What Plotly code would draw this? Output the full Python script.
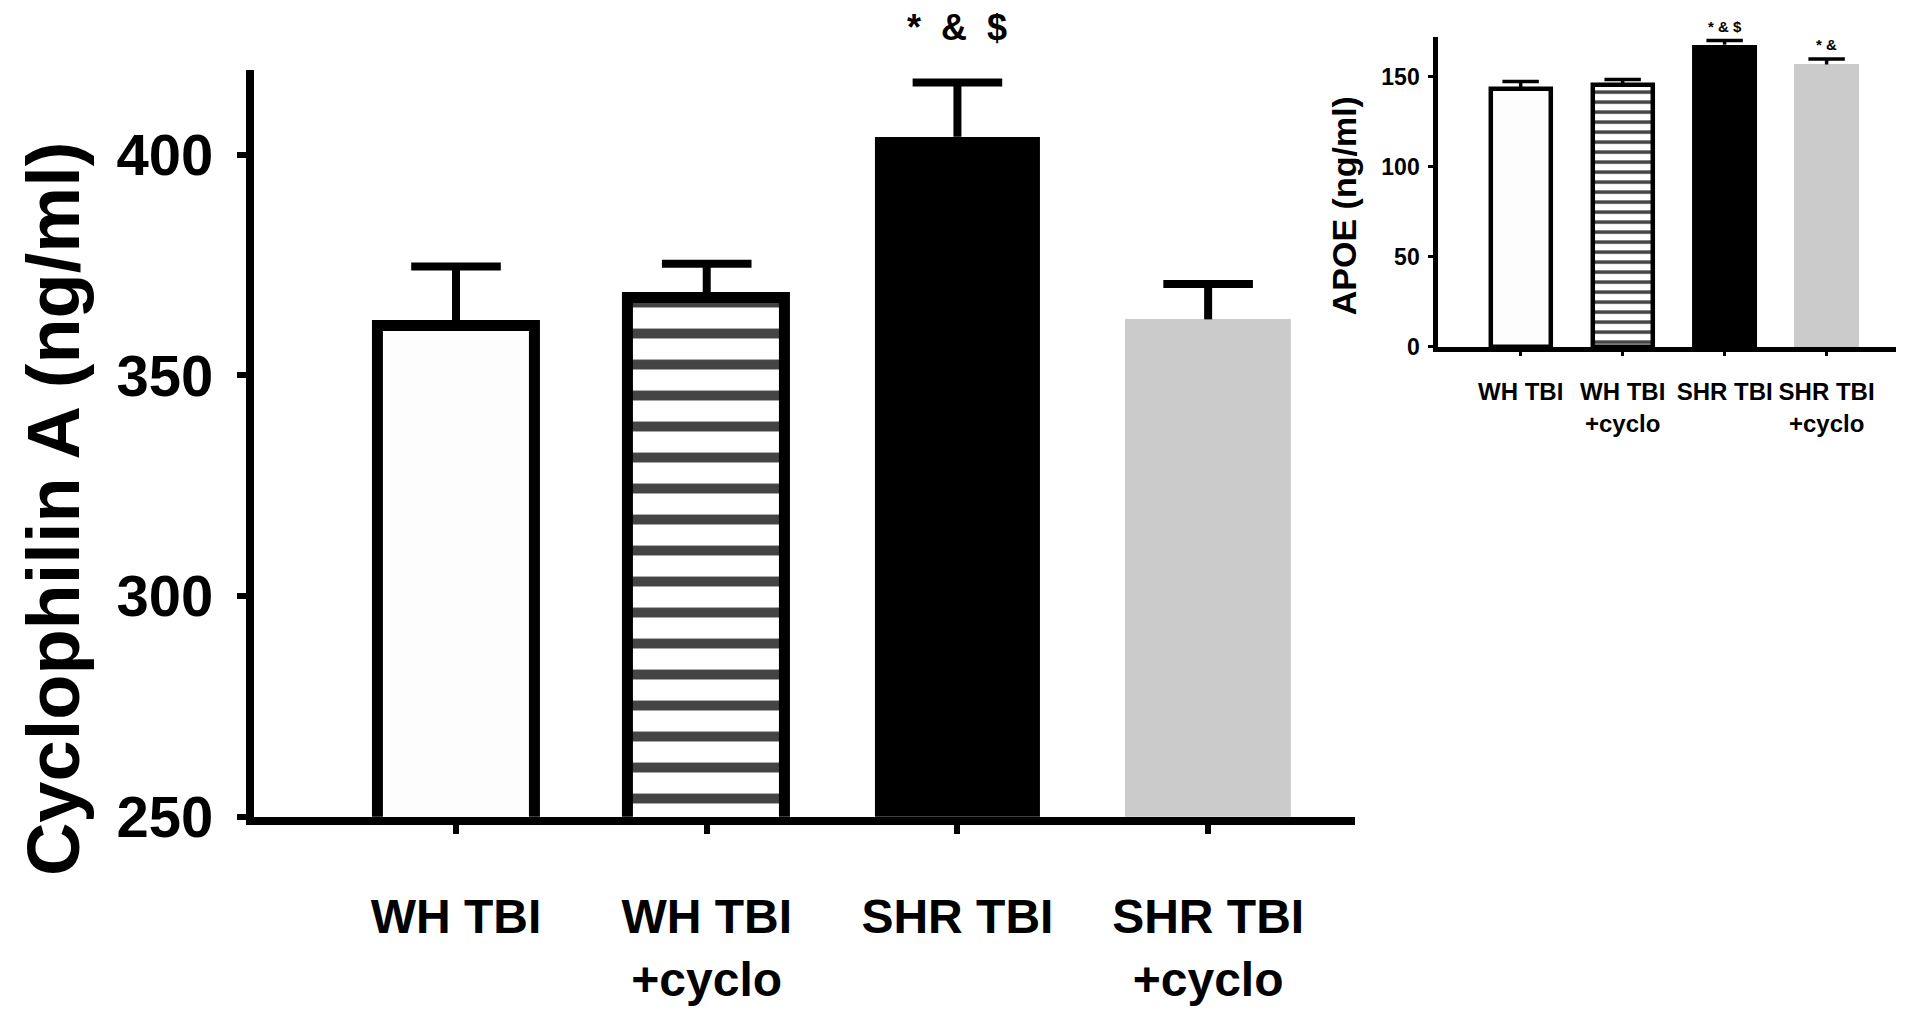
import plotly.graph_objects as go

# data
categories = ["WH TBI", "WH TBI +cyclo", "SHR TBI", "SHR TBI +cyclo"]
tick_labels = ["WH TBI", "WH TBI<br>+cyclo", "SHR TBI", "SHR TBI<br>+cyclo"]

cypa_mean = [361.1, 367.6, 404.1, 362.7]
cypa_err = [13.6, 7.7, 12.3, 8.0]
cypa_sig = ["", "", "*\u00a0\u00a0&\u00a0\u00a0$", ""]

apoe_mean = [143.0, 145.6, 167.8, 156.8]
apoe_err = [4.3, 2.8, 2.3, 3.0]
apoe_sig = ["", "", "*\u00a0&\u00a0$", "*\u00a0&"]

main_ticks = [250, 300, 350, 400]
inset_ticks = [0, 50, 100, 150]

FONT = "Liberation Sans, Arial, sans-serif"
fills = ["#fdfdfd", "white", "black", "#cbcbcb"]
edge_w_main = [11, 11, 0, 0]
edge_w_inset = [4.5, 4.5, 0, 0]
patt = ["", "-", "", ""]

fig = go.Figure()

# main chart
fig.add_trace(go.Bar(
    x=categories, y=cypa_mean,
    width=[0.626, 0.626, 0.662, 0.662],
    marker=dict(color=fills, line=dict(color="black", width=edge_w_main),
                pattern=dict(shape=patt, fgcolor="black", bgcolor="white", fgopacity=1,
                             size=31, solidity=0.32, fillmode="overlay")),
    error_y=dict(type="data", symmetric=False, array=cypa_err,
                 arrayminus=[0] * 4, color="black", thickness=8, width=0),
    xaxis="x", yaxis="y", showlegend=False,
))
fig.add_trace(go.Scatter(
    x=categories, y=[m + e for m, e in zip(cypa_mean, cypa_err)],
    mode="markers", xaxis="x", yaxis="y", showlegend=False, cliponaxis=False,
    marker=dict(symbol="line-ew", size=64, line=dict(color="black", width=8)),
))

# inset chart
fig.add_trace(go.Bar(
    x=categories, y=apoe_mean,
    width=[0.59, 0.59, 0.63, 0.63],
    marker=dict(color=fills, line=dict(color="black", width=edge_w_inset),
                pattern=dict(shape=patt, fgcolor="black", bgcolor="white", fgopacity=1,
                             size=10, solidity=0.35, fillmode="overlay")),
    error_y=dict(type="data", symmetric=False, array=apoe_err,
                 arrayminus=[0] * 4, color="black", thickness=3.5, width=0),
    xaxis="x2", yaxis="y2", showlegend=False,
))
fig.add_trace(go.Scatter(
    x=categories, y=[m + e for m, e in zip(apoe_mean, apoe_err)],
    mode="markers", xaxis="x2", yaxis="y2", showlegend=False, cliponaxis=False,
    marker=dict(symbol="line-ew", size=26, line=dict(color="black", width=3.5)),
))

annos = []
for c, m, e, s in zip(categories, cypa_mean, cypa_err, cypa_sig):
    if s:
        annos.append(dict(x=c, y=m + e, xref="x", yref="y", text=s, showarrow=False,
                          yanchor="bottom", yshift=32,
                          font=dict(family=FONT, size=36, color="black", weight="bold")))
for c, m, e, s in zip(categories, apoe_mean, apoe_err, apoe_sig):
    if s:
        annos.append(dict(x=c, y=m + e, xref="x2", yref="y2", text=s, showarrow=False,
                          yanchor="bottom", yshift=4,
                          font=dict(family=FONT, size=15, color="black", weight="bold")))

annos.append(dict(x=0.024, y=0.49, xref="paper", yref="paper", text="Cyclophilin A (ng/ml)",
                  textangle=-90, showarrow=False, xanchor="center", yanchor="middle",
                  font=dict(family=FONT, size=74, color="black", weight="bold")))
annos.append(dict(x=0.7, y=0.799, xref="paper", yref="paper", text="APOE (ng/ml)",
                  textangle=-90, showarrow=False, xanchor="center", yanchor="middle",
                  font=dict(family=FONT, size=34, color="black", weight="bold")))

fig.update_layout(
    width=1908, height=1015, autosize=False,
    margin=dict(l=0, r=0, t=0, b=0),
    paper_bgcolor="white", plot_bgcolor="white",
    bargap=0, barmode="overlay",
    annotations=annos,
    xaxis=dict(domain=[0.1289, 0.706], range=[-0.806, 3.586],
               categoryorder="array", categoryarray=categories,
               tickvals=categories, ticktext=tick_labels, tickangle=0,
               showline=True, linecolor="black", linewidth=8,
               ticks="outside", ticklen=9, tickwidth=6, tickcolor="black",
               ticklabelstandoff=42, showgrid=False, zeroline=False,
               tickfont=dict(family=FONT, size=48, color="black", weight="bold")),
    yaxis=dict(domain=[0.1773, 0.9369], range=[250, 419.2],
               tickvals=main_ticks,
               showline=True, linecolor="black", linewidth=8,
               ticks="outside", ticklen=9, tickwidth=6, tickcolor="black",
               ticklabelstandoff=12, showgrid=False, zeroline=False,
               tickfont=dict(family=FONT, size=58, color="black", weight="bold")),
    xaxis2=dict(domain=[0.7495, 0.9895], range=[-0.81, 3.68],
                anchor="y2",
                categoryorder="array", categoryarray=categories,
                tickvals=categories, ticktext=tick_labels, tickangle=0,
                showline=True, linecolor="black", linewidth=4.5,
                ticks="outside", ticklen=4, tickwidth=3, tickcolor="black",
                ticklabelstandoff=16, showgrid=False, zeroline=False,
                tickfont=dict(family=FONT, size=24, color="black", weight="bold")),
    yaxis2=dict(domain=[0.6552, 0.9704], range=[0, 172], anchor="x2",
                tickvals=inset_ticks,
                showline=True, linecolor="black", linewidth=4.5,
                ticks="outside", ticklen=5, tickwidth=3, tickcolor="black",
                ticklabelstandoff=4, showgrid=False, zeroline=False,
                tickfont=dict(family=FONT, size=23, color="black", weight="bold")),
)

fig.write_html("out.html")
